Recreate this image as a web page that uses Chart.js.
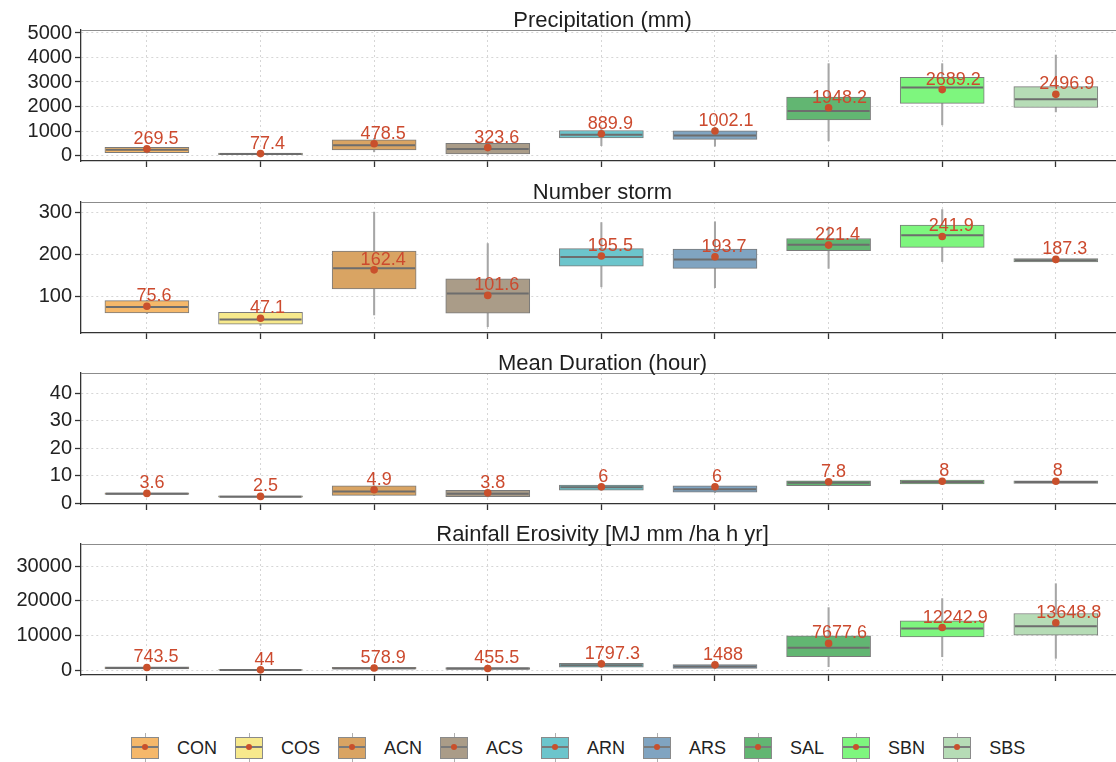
<!DOCTYPE html>
<html>
<head>
<meta charset="utf-8">
<script src="https://cdn.jsdelivr.net/npm/chart.js@4.4.1/dist/chart.umd.min.js"></script>
<style>
  html, body { margin: 0; padding: 0; background: #fff; overflow: hidden; }
  #wrap { position: relative; width: 1116px; height: 762px; overflow: hidden; }
  canvas.panel { position: absolute; left: 0; }
  #legend { position: absolute; left: 131px; top: 733px; display: flex; align-items: center; gap: 18px;
            font: 18px "Liberation Sans", Arial, sans-serif; color: #222; }
  .key { position: relative; width: 28px; height: 30px; }
  .key .w { position: absolute; left: 13.5px; top: 0; width: 1px; height: 30px; background: #b0b0b0; }
  .key .b { position: absolute; left: 0; top: 4px; width: 26px; height: 20px; border: 1px solid #8a8a8a; }
  .key .m { position: absolute; left: 1px; top: 13px; width: 26px; height: 2px; background: #7a7a7a; }
  .key .d { position: absolute; left: 11px; top: 11px; width: 6px; height: 6px; border-radius: 50%; background: #c8502c; }
</style>
</head>
<body>
<div id="wrap"><div id="legend"></div></div>
<script>
// Four stacked boxplot panels (one per variable), boxes drawn as floating bars,
// medians as line-style points, means as red dots with their value written above.
const CATS  = ["CON", "COS", "ACN", "ACS", "ARN", "ARS", "SAL", "SBN", "SBS"];
const FILLS = ["#f5b86a", "#f7e98c", "#d9a463", "#aa9c88", "#6cc5cc", "#80a4c1", "#62b672", "#7ef67e", "#b6dcb6"];

// Precipitation (mm)
const PRECIP_LO   = [100, 10, 150, 20, 400, 380, 600, 1250, 1780];
const PRECIP_Q1   = [120, 30, 230, 60, 720, 660, 1450, 2130, 1960];
const PRECIP_MED  = [240, 60, 420, 270, 850, 820, 1820, 2780, 2300];
const PRECIP_Q3   = [330, 100, 640, 500, 1020, 1010, 2380, 3190, 2810];
const PRECIP_HI   = [360, 130, 700, 560, 1100, 1150, 3750, 3750, 4100];
const PRECIP_MEAN = [269.5, 77.4, 478.5, 323.6, 889.9, 1002.1, 1948.2, 2689.2, 2496.9];
const PRECIP_TICKS = [0, 1000, 2000, 3000, 4000, 5000];

// Number storm
const STORM_LO   = [58, 30, 55, 27, 122, 120, 166, 182, 181];
const STORM_Q1   = [60, 33, 117, 59, 171, 166, 208, 216, 181];
const STORM_MED  = [74, 44, 166, 106, 193, 187, 222, 245, 185];
const STORM_Q3   = [89, 61, 207, 141, 213, 212, 237, 269, 189];
const STORM_HI   = [90, 62, 300, 225, 275, 277, 265, 306, 190];
const STORM_MEAN = [75.6, 47.1, 162.4, 101.6, 195.5, 193.7, 221.4, 241.9, 187.3];
const STORM_TICKS = [100, 200, 300];

// Mean Duration (hour)
const DUR_LO   = [3.2, 2.2, 2.8, 2.3, 4.7, 3.9, 6.3, 6.9, 7.1];
const DUR_Q1   = [3.2, 2.2, 2.9, 2.4, 4.8, 4.0, 6.4, 7.0, 7.2];
const DUR_MED  = [3.5, 2.4, 4.3, 3.5, 5.8, 5.1, 7.5, 7.7, 7.7];
const DUR_Q3   = [3.8, 2.7, 6.3, 4.7, 6.6, 6.3, 8.2, 8.4, 8.2];
const DUR_HI   = [3.8, 2.7, 6.4, 4.8, 6.7, 6.4, 8.3, 8.5, 8.3];
const DUR_MEAN = [3.6, 2.5, 4.9, 3.8, 6, 6, 7.8, 8, 8];
const DUR_TICKS = [0, 10, 20, 30, 40];

// Rainfall Erosivity
const ERO_LO   = [300, 0, 250, 200, 800, 480, 950, 3830, 3360];
const ERO_Q1   = [300, 0, 250, 200, 800, 480, 3880, 9540, 10060];
const ERO_MED  = [600, 20, 480, 400, 1400, 1000, 6400, 11990, 12640];
const ERO_Q3   = [900, 60, 800, 700, 1950, 1600, 9860, 14170, 16290];
const ERO_HI   = [900, 60, 800, 700, 1950, 1600, 18000, 20600, 24900];
const ERO_MEAN = [743.5, 44, 578.9, 455.5, 1797.3, 1488, 7677.6, 12242.9, 13648.8];
const ERO_TICKS = [0, 10000, 20000, 30000];

const FONT = '"Liberation Sans", Arial, sans-serif';
const W = 1124, Y_W = 81, PAD_TOP = 30, PANEL_H = 131, AXIS_H = 10, BOX_W = 84;

const PANELS = [
  {title: "Precipitation (mm)", lo: PRECIP_LO, q1: PRECIP_Q1, med: PRECIP_MED, q3: PRECIP_Q3, hi: PRECIP_HI, mean: PRECIP_MEAN, ticks: PRECIP_TICKS, min: -224, max: 5122, top: 30},
  {title: "Number storm", lo: STORM_LO, q1: STORM_Q1, med: STORM_MED, q3: STORM_Q3, hi: STORM_HI, mean: STORM_MEAN, ticks: STORM_TICKS, min: 12, max: 324, top: 202},
  {title: "Mean Duration (hour)", lo: DUR_LO, q1: DUR_Q1, med: DUR_MED, q3: DUR_Q3, hi: DUR_HI, mean: DUR_MEAN, ticks: DUR_TICKS, min: -0.25, max: 47.3, top: 373},
  {title: "Rainfall Erosivity [MJ mm /ha h yr]", lo: ERO_LO, q1: ERO_Q1, med: ERO_MED, q3: ERO_Q3, hi: ERO_HI, mean: ERO_MEAN, ticks: ERO_TICKS, min: -1440, max: 36350, top: 544},
];

const panelDeco = {
  id: "panelDeco",
  afterDatasetsDraw(chart, args, opts) {
    const {ctx, chartArea: a} = chart;
    ctx.save();
    ctx.strokeStyle = "#8c8c8c"; ctx.lineWidth = 1.2;
    ctx.beginPath(); ctx.moveTo(a.left, a.top + 0.5); ctx.lineTo(a.right, a.top + 0.5); ctx.stroke();
    ctx.fillStyle = "#1e1e1e"; ctx.font = "22px " + FONT;
    ctx.textAlign = "center"; ctx.textBaseline = "alphabetic";
    ctx.fillText(opts.title, (a.left + a.right) / 2, a.top - 3);
    ctx.font = "18px " + FONT; ctx.fillStyle = "#cc4a2e";
    chart.getDatasetMeta(3).data.forEach((pt, i) => {
      const t = String(opts.means[i]);
      const w = ctx.measureText(t).width;
      ctx.fillText(t, pt.x + 0.2 * w, pt.y - 5);
    });
    ctx.restore();
  }
};

const wrap = document.getElementById("wrap");
const pts = arr => arr.map((v, i) => ({x: i, y: v}));
const rng = (a, b) => a.map((v, i) => ({x: i, y: [v, b[i]]}));
const gridOpts = {color: "#d6d6d6", lineWidth: 1, tickLength: 6, tickColor: "#333", tickWidth: 1.3, drawTicks: true, offset: false};
const borderOpts = {display: true, color: "#333", width: 1.3, dash: [2, 3]};

PANELS.forEach(p => {
  const cv = document.createElement("canvas");
  cv.className = "panel";
  cv.width = W; cv.height = PAD_TOP + PANEL_H + AXIS_H;
  cv.style.top = (p.top - PAD_TOP) + "px";
  wrap.appendChild(cv);
  new Chart(cv, {
    type: "bar",
    data: {datasets: [
      {type: "bar", data: rng(p.lo, p.hi), backgroundColor: "#a6a6a6", barThickness: 1.4, grouped: false, order: 4},
      {type: "bar", data: rng(p.q1, p.q3), backgroundColor: FILLS, borderColor: "#7a7a7a", borderWidth: 1,
       borderSkipped: false, barThickness: BOX_W, grouped: false, order: 3},
      {type: "scatter", data: pts(p.med), pointStyle: "line", pointRadius: BOX_W / 2 - 1,
       pointBorderColor: "#6d6d6d", pointBorderWidth: 2, showLine: false, order: 2},
      {type: "scatter", data: pts(p.mean), pointStyle: "circle", pointRadius: 3.8,
       pointBackgroundColor: "#c9502c", pointBorderWidth: 0, showLine: false, order: 1},
    ]},
    options: {
      responsive: false, animation: false, events: [],
      layout: {autoPadding: false, padding: {top: PAD_TOP, left: 0, right: 0, bottom: 0}},
      plugins: {legend: {display: false}, tooltip: {enabled: false}, panelDeco: {title: p.title, means: p.mean}},
      scales: {
        x: {type: "linear", min: -0.58, max: 8.6, offset: false,
            afterBuildTicks: s => { s.ticks = CATS.map((c, i) => ({value: i})); },
            afterFit: s => { s.height = AXIS_H; s.paddingLeft = 0; s.paddingRight = 0; },
            ticks: {display: false}, grid: gridOpts, border: borderOpts},
        y: {type: "linear", min: p.min, max: p.max,
            afterBuildTicks: s => { s.ticks = p.ticks.map(v => ({value: v})); },
            afterFit: s => { s.width = Y_W; s.paddingTop = 0; s.paddingBottom = 0; },
            ticks: {autoSkip: false, callback: v => String(v), font: {size: 20, family: FONT}, color: "#222", padding: 3},
            grid: gridOpts, border: borderOpts}
      }
    },
    plugins: [panelDeco]
  });
});

// legend
const leg = document.getElementById("legend");
CATS.forEach((c, i) => {
  const k = document.createElement("div");
  k.className = "key";
  k.innerHTML = `<div class="w"></div><div class="b" style="background:${FILLS[i]}"></div><div class="m"></div><div class="d"></div>`;
  const t = document.createElement("span");
  t.textContent = c;
  leg.appendChild(k); leg.appendChild(t);
});
</script>
</body>
</html>
